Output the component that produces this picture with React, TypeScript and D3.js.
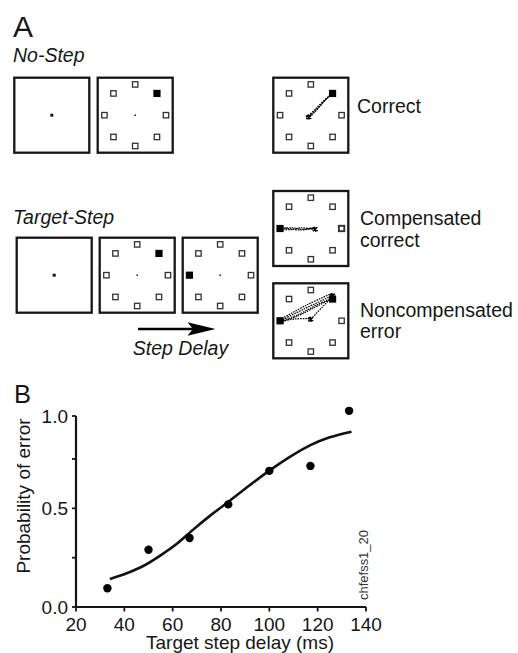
import React from 'react';
import * as d3 from 'd3';

// ---- Panel B data: probability of a noncompensated error vs target step delay ----
const delays = [33, 50, 67, 83, 100, 117, 133];
const errorProb = [0.095, 0.29, 0.35, 0.52, 0.69, 0.715, 1.03];

// fitted psychometric curve
const fitDelay = [34, 41, 48, 55, 62, 68, 75, 84, 92, 100, 109, 117, 125, 134];
const fitProb = [0.142, 0.171, 0.209, 0.262, 0.323, 0.387, 0.458, 0.542, 0.618, 0.691, 0.767, 0.831, 0.876, 0.909];

const xTicks = [20, 40, 60, 80, 100, 120, 140];
const yTicks = [0, 0.25, 0.5, 0.75, 1];
const yTickLabels = ['0.0', '', '0.5', '', '1.0'];

// ---- Panel A data: task displays ----
const targetAngles = [0, 45, 90, 135, 180, 225, 270, 315];
const rowTitles = ['No-Step', 'Target-Step'];
const outcomeLabels = [['Correct'], ['Compensated', 'correct'], ['Noncompensated', 'error']];

// saccade traces in box units (-1..1, y pointing down)
const correctTraces: [number, number][][] = [
  [[-0.12, 0.06], [0.08, -0.12], [0.32, -0.36], [0.6, -0.6]],
  [[-0.08, 0.1], [0.12, -0.1], [0.36, -0.38], [0.63, -0.63]],
  [[-0.04, 0.02], [0.2, -0.2], [0.44, -0.46], [0.58, -0.58]],
];
const compensatedTraces: [number, number][][] = [
  [[0.08, -0.02], [-0.2, 0.02], [-0.5, -0.02], [-0.82, 0.0]],
  [[0.12, 0.03], [-0.25, -0.02], [-0.55, 0.03], [-0.8, 0.02]],
  [[0.04, 0.0], [-0.3, 0.04], [-0.6, 0.0], [-0.78, -0.02]],
];
const noncompTraces: [number, number][][] = [
  [[-0.8, 0.0], [-0.2, -0.3], [0.6, -0.68]],
  [[-0.76, -0.06], [-0.1, -0.42], [0.55, -0.72]],
  [[-0.84, 0.04], [-0.3, -0.18], [0.2, -0.44], [0.62, -0.62]],
  [[-0.8, 0.02], [-0.4, -0.1], [0.0, -0.3], [0.58, -0.6]],
  [[0.0, -0.04], [0.3, -0.36], [0.58, -0.64]],
  [[-0.82, 0.03], [-0.4, -0.05], [0.0, -0.05]],
];

const FONT = '"Liberation Sans", Arial, Helvetica, sans-serif';
const INK = '#161616';

const unit = d3.scaleLinear().domain([-1, 1]).range([-38, 38]);
const traceLine = d3
  .line<[number, number]>()
  .x((d) => unit(d[0]))
  .y((d) => unit(d[1]))
  .curve(d3.curveCatmullRom);

type BoxProps = {
  x0: number;
  y0: number;
  fixation: 'large' | 'small';
  showTargets?: boolean;
  filled?: number[];
  bold?: number[];
  traces?: [number, number][][];
  blobs?: [number, number][];
};

function TaskBox({ x0, y0, fixation, showTargets = false, filled = [], bold = [], traces = [], blobs = [] }: BoxProps) {
  const size = 77;
  const cx = x0 + size / 2;
  const cy = y0 + size / 2;
  const r = 0.81;
  return (
    <g>
      <rect x={x0 + 1} y={y0 + 1} width={size - 2} height={size - 2} fill="#fff" stroke={INK} strokeWidth={2.3} />
      <g transform={`translate(${cx},${cy})`}>
        {fixation === 'large' ? (
          <rect x={-1.5} y={-1.5} width={3} height={3} fill={INK} />
        ) : (
          <rect x={-0.8} y={-0.8} width={1.6} height={1.6} fill="#333" />
        )}
        {showTargets &&
          targetAngles.map((a) => {
            const rad = (a * Math.PI) / 180;
            const tx = unit(r * Math.cos(rad));
            const ty = unit(-r * Math.sin(rad));
            if (filled.includes(a)) {
              return <rect key={a} x={tx - 3.6} y={ty - 3.6} width={7.2} height={7.2} fill="#000" />;
            }
            const sw = bold.includes(a) ? 1.9 : 1.3;
            return (
              <rect key={a} x={tx - 2.7} y={ty - 2.7} width={5.4} height={5.4} fill="#fff" stroke="#333" strokeWidth={sw} />
            );
          })}
        {traces.map((t, i) => (
          <path key={i} d={traceLine(t) || ''} fill="none" stroke="#000" strokeWidth={1.2} strokeDasharray="1.6 1" />
        ))}
        {blobs.map((b, i) => (
          <g key={i} transform={`translate(${unit(b[0])},${unit(b[1])})`}>
            <path d="M-3,-1.5 L2.5,1.5 M-2.5,2 L2,-2 M-1,-2.5 L0.5,2.5" stroke="#000" strokeWidth={1.6} />
          </g>
        ))}
      </g>
    </g>
  );
}

function PanelB() {
  const x = d3.scaleLinear().domain([20, 140]).range([76, 366]);
  const y = d3.scaleLinear().domain([0, 0.75, 1]).range([607, 459, 416]);
  const fitPts = fitDelay.map((d, i) => [d, fitProb[i]] as [number, number]);
  const line = d3
    .line<[number, number]>()
    .x((d) => x(d[0]))
    .y((d) => y(d[1]))
    .curve(d3.curveMonotoneX);
  const [x0, x1] = x.range();
  const yBottom = y(0);
  const yTop = y(1);
  return (
    <g fontFamily={FONT} fill={INK}>
      <text x={14} y={403} fontSize={25.5}>B</text>
      {/* axes */}
      <line x1={x0} x2={x0} y1={yTop} y2={yBottom + 1} stroke={INK} strokeWidth={2.2} />
      <line x1={x0 - 1} x2={x1} y1={yBottom} y2={yBottom} stroke={INK} strokeWidth={2.2} />
      {yTicks.map((t, i) => (
        <g key={t}>
          <line x1={x0 - 4} x2={x0} y1={y(t)} y2={y(t)} stroke={INK} strokeWidth={1.8} />
          {yTickLabels[i] && (
            <text x={68} y={y(t)} dy="0.36em" fontSize={19} textAnchor="end">
              {yTickLabels[i]}
            </text>
          )}
        </g>
      ))}
      {xTicks.map((t) => (
        <g key={t}>
          <line x1={x(t)} x2={x(t)} y1={yBottom} y2={yBottom + 4.5} stroke={INK} strokeWidth={1.8} />
          <text x={x(t)} y={630.5} fontSize={19} textAnchor="middle">
            {t}
          </text>
        </g>
      ))}
      <text transform="translate(30,496) rotate(-90)" fontSize={19} textAnchor="middle">
        Probability of error
      </text>
      <text x={240} y={649} fontSize={19} textAnchor="middle">
        Target step delay (ms)
      </text>
      {/* fit and observations */}
      <path d={line(fitPts) || ''} fill="none" stroke="#111" strokeWidth={2.6} strokeLinecap="butt" />
      {delays.map((d, i) => (
        <circle key={d} cx={x(d)} cy={y(errorProb[i])} r={4.2} fill="#000" />
      ))}
      <text transform="translate(367.5,600) rotate(-90)" fontSize={12} textLength={70} lengthAdjust="spacingAndGlyphs" fill="#333">
        chfefss1_20
      </text>
    </g>
  );
}

function PanelA() {
  return (
    <g fontFamily={FONT} fill={INK}>
      <text x={13} y={37} fontSize={30}>A</text>
      <text x={13} y={62} fontSize={19.5} fontStyle="italic">{rowTitles[0]}</text>
      <text x={13} y={224} fontSize={19.5} fontStyle="italic">{rowTitles[1]}</text>

      {/* No-step sequence */}
      <TaskBox x0={13.3} y0={76.7} fixation="large" />
      <TaskBox x0={96.7} y0={76.7} fixation="small" showTargets filled={[45]} />
      <TaskBox x0={272.3} y0={76.7} fixation="small" showTargets filled={[45]} traces={correctTraces} blobs={[[-0.05, 0.05]]} />

      {/* Target-step sequence */}
      <TaskBox x0={15.7} y0={236.7} fixation="large" />
      <TaskBox x0={98.7} y0={236.7} fixation="small" showTargets filled={[45]} />
      <TaskBox x0={181.7} y0={236.7} fixation="small" showTargets filled={[180]} />

      {/* outcomes */}
      <TaskBox x0={272.3} y0={190} fixation="small" showTargets filled={[180]} bold={[0]} traces={compensatedTraces} blobs={[[0.12, 0.02]]} />
      <TaskBox
        x0={272.3}
        y0={282.3}
        fixation="small"
        showTargets
        filled={[180, 45]}
        traces={noncompTraces}
        blobs={[[0.0, -0.04], [0.58, -0.66], [-0.78, 0.0]]}
      />

      {/* step delay arrow */}
      <line x1={138} x2={200} y1={329} y2={329} stroke="#000" strokeWidth={2.4} />
      <path d="M215.5,329 L187.5,322.3 L193,329 L187.5,335.7 Z" fill="#000" />
      <text x={180.5} y={355} fontSize={19.5} fontStyle="italic" textAnchor="middle">Step Delay</text>

      <text x={357} y={113} fontSize={19.5}>{outcomeLabels[0][0]}</text>
      <text x={360} y={225} fontSize={19.5}>{outcomeLabels[1][0]}</text>
      <text x={360} y={247} fontSize={19.5}>{outcomeLabels[1][1]}</text>
      <text x={360} y={317} fontSize={19.5}>{outcomeLabels[2][0]}</text>
      <text x={360} y={338} fontSize={19.5}>{outcomeLabels[2][1]}</text>
    </g>
  );
}

export default function App() {
  return (
    <svg
      width={518}
      height={653}
      viewBox="0 0 518 653"
      style={{ position: 'absolute', left: 0, top: 0, display: 'block', background: '#fff' }}
    >
      <rect width={518} height={653} fill="#fff" />
      <PanelA />
      <PanelB />
    </svg>
  );
}
